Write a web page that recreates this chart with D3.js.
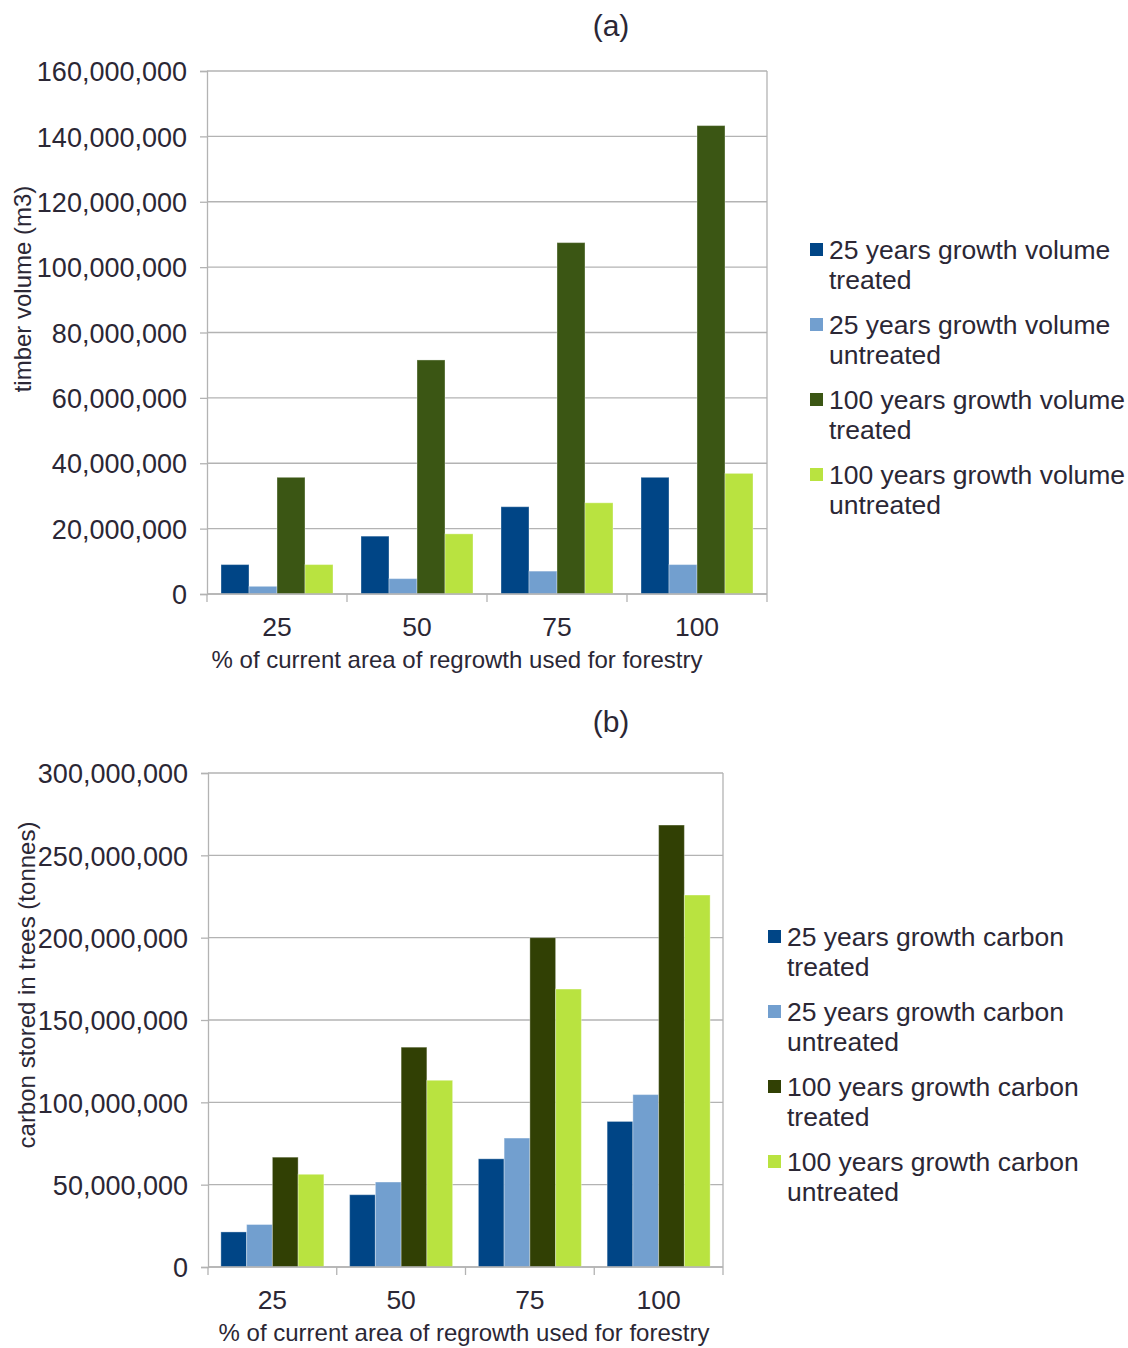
<!DOCTYPE html>
<html><head><meta charset="utf-8">
<script src="https://cdn.jsdelivr.net/npm/d3@7"></script>
<style>body{margin:0;background:#fff}svg{display:block}text{font-family:"Liberation Sans",Arial,sans-serif;fill:#2b2735}</style>
</head><body><svg id="c" width="1128" height="1348"></svg>
<script>
const categories = ["25","50","75","100"];
const colorsA = ["#004586","#729fcf","#3b5614","#b9e340"];
const colorsB = ["#004586","#729fcf","#314004","#b9e340"];

const seriesA = ["25 years growth volume treated","25 years growth volume untreated","100 years growth volume treated","100 years growth volume untreated"];
const volTreated25 = [9.0e6, 17.7e6, 26.7e6, 35.7e6];
const volUntreated25 = [2.35e6, 4.7e6, 7.0e6, 9.0e6];
const volTreated100 = [35.7e6, 71.6e6, 107.5e6, 143.3e6];
const volUntreated100 = [9.0e6, 18.4e6, 27.9e6, 36.9e6];
const ticksA = [0,20e6,40e6,60e6,80e6,100e6,120e6,140e6,160e6];

const seriesB = ["25 years growth carbon treated","25 years growth carbon untreated","100 years growth carbon treated","100 years growth carbon untreated"];
const carTreated25 = [21.3e6, 43.9e6, 65.7e6, 88.4e6];
const carUntreated25 = [25.8e6, 51.6e6, 78.3e6, 104.7e6];
const carTreated100 = [66.7e6, 133.5e6, 200.0e6, 268.4e6];
const carUntreated100 = [56.3e6, 113.4e6, 168.8e6, 225.9e6];
const ticksB = [0,50e6,100e6,150e6,200e6,250e6,300e6];

const svg = d3.select("#c");
const fmt = d3.format(",");

function chart(o){
  const g = svg.append("g");
  const x = d3.scaleBand().domain(categories).range([o.left,o.right]);
  const y = d3.scaleLinear().domain([0,o.max]).range([o.bottom,o.top]);
  const xi = d3.scaleBand().domain(d3.range(4)).range([0,x.bandwidth()]).paddingOuter(0.5).paddingInner(0);
  // grid
  g.selectAll("line.grid").data(o.ticks).join("line")
    .attr("x1",o.left).attr("x2",o.right).attr("y1",d=>y(d)).attr("y2",d=>y(d))
    .attr("stroke","#b3b3b3").attr("stroke-width",1.3);
  // y axis
  const ya = d3.axisLeft(y).tickValues(o.ticks).tickFormat(fmt).tickSize(7).tickPadding(13);
  const yg = g.append("g").attr("transform",`translate(${o.left},0)`).call(ya);
  yg.select(".domain").attr("stroke","#b3b3b3").attr("stroke-width",1.3);
  yg.selectAll(".tick line").attr("stroke","#b3b3b3").attr("stroke-width",1.3);
  yg.selectAll(".tick text").attr("font-size",27).attr("fill","#2b2735").attr("dy","0.36em").attr("font-family","Liberation Sans, Arial, sans-serif");
  // right border
  g.append("line").attr("x1",o.right).attr("x2",o.right).attr("y1",o.top).attr("y2",o.bottom).attr("stroke","#b3b3b3").attr("stroke-width",1.3);
  // bars
  const data = o.values;
  categories.forEach((c,ci)=>{
    data.forEach((s,si)=>{
      g.append("rect").attr("x",x(c)+xi(si)).attr("width",xi.bandwidth())
        .attr("y",y(s[ci])).attr("height",y(0)-y(s[ci]))
        .attr("fill",o.colors[si]).attr("stroke","rgba(255,255,255,0.35)").attr("stroke-width",1);
    });
  });
  // x axis
  const xb = d3.scaleLinear().domain([0,4]).range([o.left,o.right]);
  g.selectAll("line.xt").data(d3.range(5)).join("line")
    .attr("x1",d=>xb(d)).attr("x2",d=>xb(d)).attr("y1",o.bottom).attr("y2",o.bottom+8)
    .attr("stroke","#b3b3b3").attr("stroke-width",1.3);
  g.append("line").attr("x1",o.left).attr("x2",o.right).attr("y1",o.bottom).attr("y2",o.bottom).attr("stroke","#b3b3b3").attr("stroke-width",1.3);
  g.selectAll("text.cat").data(categories).join("text")
    .attr("x",d=>x(d)+x.bandwidth()/2).attr("y",o.bottom+42).attr("text-anchor","middle").attr("font-size",26.5).text(d=>d);
  g.append("text").attr("x",o.xtCenter).attr("y",o.bottom+74).attr("text-anchor","middle").attr("font-size",24)
    .text("% of current area of regrowth used for forestry");
  g.append("text").attr("transform",`translate(${o.ytx},${(o.top+o.bottom)/2 + o.ytdy}) rotate(-90)`).attr("text-anchor","middle")
    .attr("font-size",24).text(o.ytitle);
  g.append("text").attr("x",611).attr("y",o.titleY).attr("text-anchor","middle").attr("font-size",30).text(o.title);
  // legend
  o.series.forEach((name,i)=>{
    const ly = o.legY + i*75;
    g.append("rect").attr("x",o.legX).attr("y",ly-16).attr("width",13).attr("height",13).attr("fill",o.colors[i]);
    const words = name.split(" ");
    const l1 = words.slice(0,words.length-1).join(" "), l2 = words[words.length-1];
    g.append("text").attr("x",o.legX+19).attr("y",ly).attr("font-size",26.5).text(l1);
    g.append("text").attr("x",o.legX+19).attr("y",ly+30).attr("font-size",26.5).text(l2);
  });
}

chart({left:207,right:767,top:71,bottom:594,max:160e6,ticks:ticksA,
  values:[volTreated25,volUntreated25,volTreated100,volUntreated100],colors:colorsA,xtCenter:457,
  ytitle:"timber volume (m3)",ytx:31,ytdy:-43.5,title:"(a)",titleY:36,series:seriesA,legX:810,legY:259});
chart({left:208,right:723,top:773,bottom:1267,max:300e6,ticks:ticksB,
  values:[carTreated25,carUntreated25,carTreated100,carUntreated100],colors:colorsB,xtCenter:464,
  ytitle:"carbon stored in trees (tonnes)",ytx:35,ytdy:-35,title:"(b)",titleY:732,series:seriesB,legX:768,legY:946});
</script></body></html>
